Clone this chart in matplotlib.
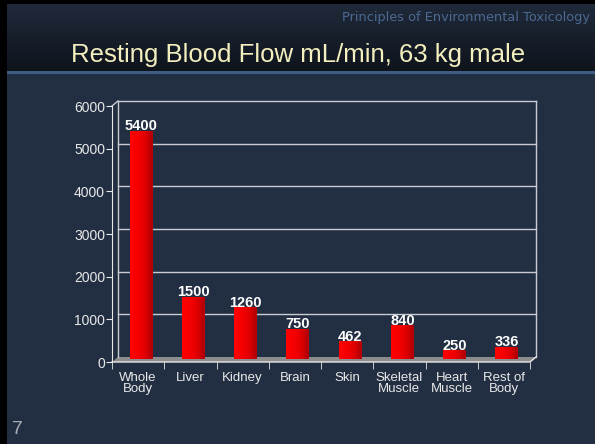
import numpy as np
import matplotlib
matplotlib.use("Agg")
import matplotlib.pyplot as plt
from matplotlib.patches import Rectangle, Polygon

# data
organs = ["Whole\nBody", "Liver", "Kidney", "Brain", "Skin",
          "Skeletal\nMuscle", "Heart\nMuscle", "Rest of\nBody"]
flow = [5400, 1500, 1260, 750, 462, 840, 250, 336]
yticks = [0, 1000, 2000, 3000, 4000, 5000, 6000]

plt.rcParams["font.family"] = ["Liberation Sans", "DejaVu Sans"]

W, H = 595, 444
fig = plt.figure(figsize=(W / 100, H / 100), dpi=100)
fig.patch.set_facecolor("#222f42")

# slide background: header gradient, blue rule, black frame
bg = fig.add_axes([0, 0, 1, 1], zorder=-10)
bg.set_xlim(0, W)
bg.set_ylim(H, 0)
bg.axis("off")
grad = np.linspace(0, 1, 64).reshape(-1, 1)
top_c = np.array([0x20, 0x2b, 0x3c]) / 255
bot_c = np.array([0x0f, 0x14, 0x1c]) / 255
img = top_c + (bot_c - top_c) * grad[..., None]
bg.imshow(img, extent=(0, W, 71, 0), aspect="auto", interpolation="bilinear")
bg.add_patch(Rectangle((0, 71), W, 3, color="#3f5c82", lw=0))
bg.add_patch(Rectangle((0, 0), 7, H, color="black", lw=0))
bg.add_patch(Rectangle((0, 0), W, 4, color="black", lw=0))

fig.text(590 / W, 1 - 21 / H, "Principles of Environmental Toxicology",
         color="#4d6a92", fontsize=9.3, ha="right", va="baseline",
         family="DejaVu Sans")
fig.text(298 / W, 1 - 62 / H, "Resting Blood Flow mL/min, 63 kg male",
         color="#f4efbe", fontsize=18.5, ha="center", va="baseline")
fig.text(12 / W, 1 - 429 / H, "7", color="#a8adb5", fontsize=14,
         ha="left", va="center")

# chart
ax = fig.add_axes([112 / W, 1 - 362 / H, 418 / W, 256 / H])
ax.set_facecolor("none")
n = len(organs)
x = np.arange(n)
ax.set_xlim(-0.5, n - 0.5)
ax.set_ylim(0, 6000)
dx = 6 / 418 * n        # depth offset in data units
dy = 5 / 256 * 6000
grid_c = "#c8ccd2"

# floor
floor = Polygon([(-0.5, 0), (n - 0.5, 0), (n - 0.5 + dx, dy), (-0.5 + dx, dy)],
                closed=True, facecolor="#8c8c8c", edgecolor="none", zorder=1,
                clip_on=False)
ax.add_patch(floor)
ax.plot([-0.5, n - 0.5, n - 0.5 + dx], [0, 0, dy], color="#e8e8e8", lw=1,
        zorder=2, clip_on=False)

# back wall + gridlines
for t in yticks[1:]:
    ax.plot([-0.5 + dx, n - 0.5 + dx], [t + dy, t + dy], color=grid_c, lw=1,
            zorder=1, clip_on=False)
ax.plot([-0.5 + dx, -0.5 + dx], [dy, 6000 + dy], color=grid_c, lw=1,
        zorder=1, clip_on=False)
ax.plot([n - 0.5 + dx, n - 0.5 + dx], [dy, 6000 + dy], color=grid_c, lw=1,
        zorder=1, clip_on=False)
ax.plot([-0.5, -0.5 + dx], [6000, 6000 + dy], color=grid_c, lw=1,
        zorder=1, clip_on=False)

# bars with a horizontal shading
bw = 0.44
shade = np.array([[1.0, 0.0, 0.0], [0.97, 0.0, 0.0], [0.93, 0.0, 0.0],
                  [0.86, 0.0, 0.0], [0.72, 0.0, 0.02]])
xs = x + dx / 2
for xi, v in zip(xs, flow):
    ax.imshow(shade[None, :, :], extent=(xi - bw / 2, xi + bw / 2, dy / 2, v),
              aspect="auto", interpolation="bilinear", zorder=3)
    ax.annotate(str(v), (xi, v), xytext=(0, 4), textcoords="offset points",
                ha="center", va="center", color="white", fontsize=10.5,
                fontweight="bold", zorder=5)
ax.set_xlim(-0.5, n - 0.5)
ax.set_ylim(0, 6000)

# axes styling
for s in ["top", "right", "bottom"]:
    ax.spines[s].set_visible(False)
ax.spines["left"].set_color("#e8e8e8")
ax.set_yticks(yticks)
ax.tick_params(axis="y", colors="#e8e8e8", labelsize=10, length=4,
               direction="out", pad=1)
ax.set_xticks(x)
ax.set_xticklabels(organs, color="#e8e8e8", fontsize=9.5, linespacing=0.9)
ax.tick_params(axis="x", length=0, pad=7)
ax.set_xticks(np.arange(n + 1) - 0.5, minor=True)
ax.tick_params(axis="x", which="minor", length=5, colors="#e8e8e8",
               direction="out")

fig.savefig("out.png", dpi=100, facecolor=fig.get_facecolor())
